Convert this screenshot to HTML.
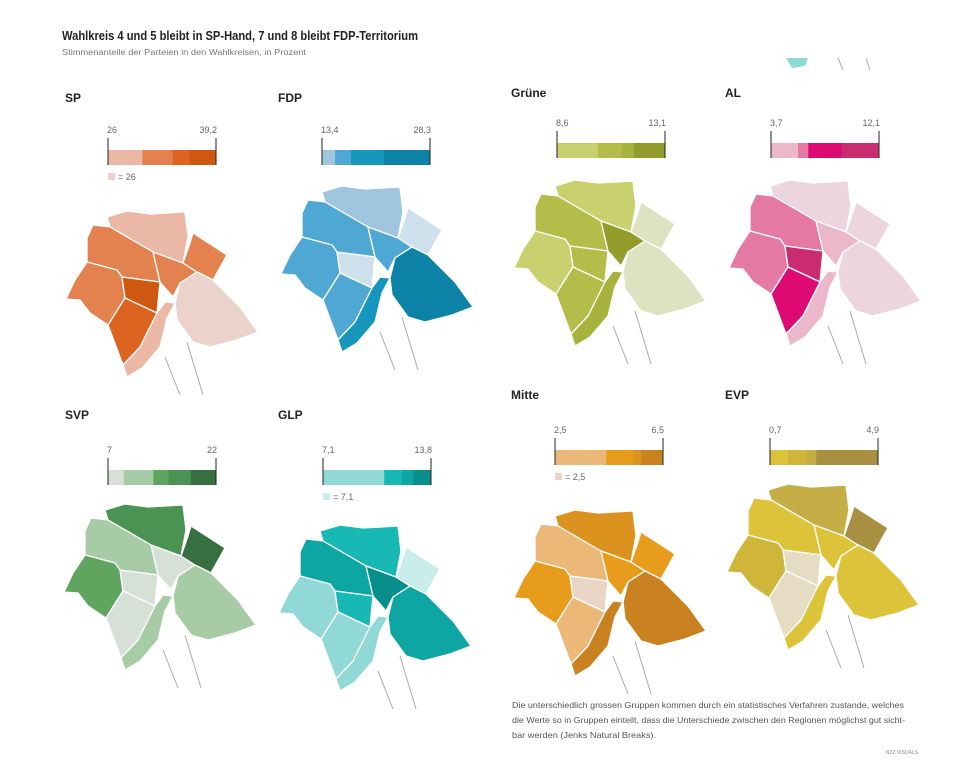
<!DOCTYPE html>
<html><head><meta charset="utf-8"><style>
body{margin:0;background:#fff;}
svg{display:block;font-family:"Liberation Sans Narrow","Liberation Sans",sans-serif;}
</style></head><body>
<svg id="c" width="960" height="770" viewBox="0 0 960 770">
<rect width="960" height="770" fill="#fff"/>
<text x="62" y="40" font-size="12.5" font-weight="bold" fill="#222" textLength="356" lengthAdjust="spacingAndGlyphs">Wahlkreis 4 und 5 bleibt in SP-Hand, 7 und 8 bleibt FDP-Territorium</text>
<text x="62" y="55" font-size="8.5" fill="#777" textLength="244" lengthAdjust="spacingAndGlyphs">Stimmenanteile der Parteien in den Wahlkreisen, in Prozent</text>
<path d="M786 58 L808 58 L805 66 L792 68 Z" fill="#8fd9d6"/>
<line x1="838" y1="58" x2="843" y2="70" stroke="#aaa" stroke-width="1"/>
<line x1="866" y1="58" x2="870" y2="70" stroke="#aaa" stroke-width="1"/>
<g id="maps"></g>
<g font-size="8.5" fill="#555">
<text x="512" y="708" textLength="392" lengthAdjust="spacingAndGlyphs">Die unterschiedlich grossen Gruppen kommen durch ein statistisches Verfahren zustande, welches</text>
<text x="512" y="723" textLength="393" lengthAdjust="spacingAndGlyphs">die Werte so in Gruppen einteilt, dass die Unterschiede zwischen den Regionen möglichst gut sicht-</text>
<text x="512" y="738" textLength="144" lengthAdjust="spacingAndGlyphs">bar werden (Jenks Natural Breaks).</text></g>
<text x="918" y="754" font-size="5" fill="#888" text-anchor="end">NZZ VISUALS</text>
</svg>
<script>
// Districts order: K11, K10, K6, K12, K9, K4/5, K3, K2, K7/8
const districts = ["k11","k10","k6","k12","k9","k4","k3","k2","k7"];
const parties = ["SP","FDP","Grüne","AL","SVP","GLP","Mitte","EVP"];
const breaksSP = [26,30.2,33.9,36,39.2];
const breaksFDP = [13.4,15.2,17.4,21.9,28.3];
const breaksGruene = [8.6,10.3,11.3,11.8,13.1];
const breaksAL = [3.7,5.8,6.6,9.2,12.1];
const breaksSVP = [7,9.2,13.3,15.4,18.5,22];
const breaksGLP = [7.1,10.9,12.0,12.7,13.8];
const breaksMitte = [2.5,4.4,5.4,5.7,6.5];
const breaksEVP = [0.7,1.4,2.1,2.5,4.9];
const valuesSP = [29,32,32,32,32,39.2,35,29,26];
const valuesFDP = [14,16,16,13.4,16,13.4,16,20,28.3];
const valuesGruene = [9.5,10.8,13.1,8.6,9.5,10.8,10.8,11.5,8.6];
const valuesAL = [3.7,6.2,5,3.7,6.2,12.1,8.5,5,3.7];
const valuesSVP = [17,11,8,22,14,8,8,11,11];
const valuesGLP = [11.5,12.3,13.8,7.1,9,11.5,9,9,12.3];
const valuesMitte = [5.5,3.5,5,5,5,2.5,3.5,6.5,6.5];
const valuesEVP = [2.3,1,1,4.9,1.7,0.7,0.7,1,1];

const palettes=[
 ['#eab8a5','#e3814f','#dc6420','#cf5810'],
 ['#9fc6de','#4ea8d3','#1696bd','#0b82a6'],
 ['#c9d16e','#b4bd4a','#a8b33d','#939c2a'],
 ['#ebb7ca','#e47aa4','#dc0a72','#c92c70'],
 ['#d6e0d6','#a7cca5','#5fa55f','#4a9352','#386f40'],
 ['#90d9d6','#18b8b5','#0ea6a3','#088f8b'],
 ['#ecb878','#e89c1c','#dc921f','#c9821f'],
 ['#ddc33a','#d0b53b','#c6ae47','#a98f41']];
const minColors=['#ebd3cc','#cde0ec','#dde3c0','#edd5dd',null,'#c9edeb','#ead6c6','#e6dcc4'];
const swatchShown=[true,false,false,false,false,true,true,false];
const allBreaks=[breaksSP,breaksFDP,breaksGruene,breaksAL,breaksSVP,breaksGLP,breaksMitte,breaksEVP];
const allValues=[valuesSP,valuesFDP,valuesGruene,valuesAL,valuesSVP,valuesGLP,valuesMitte,valuesEVP];
const fmt=v=>String(v).replace('.',',');

const mapOff=[[0,0],[215,-25],[448,-31],[663,-31],[-2,293],[213,314],[448,299],[661,273]];
const titlePos=[[65,102],[278,102],[511,97],[725,97],[65,419],[278,419],[511,399],[725,399]];
const barPos=[[108,150],[322,150],[557,143],[771,143],[108,470],[323,470],[555,450],[770,450]];
const BW=108,BH=15;
const shapes=[
 [[107,217],[127,211],[150,214],[185,212],[188,237],[183,263],[153,252],[110,227]],
 [[87,238],[93,225],[110,227],[153,252],[160,282],[122,277],[117,270],[87,262]],
 [[153,252],[183,263],[197,272],[180,283],[173,297],[160,282]],
 [[183,263],[190,243],[193,233],[227,255],[213,280],[197,272]],
 [[87,262],[117,270],[122,277],[125,298],[108,325],[90,313],[80,300],[66,299],[75,280]],
 [[122,277],[160,282],[157,313],[125,298]],
 [[125,298],[157,313],[140,347],[123,365],[108,325]],
 [[157,313],[165,302],[175,303],[167,318],[160,347],[142,368],[127,377],[123,365],[140,347]],
 [[175,303],[180,283],[197,272],[213,280],[240,307],[258,332],[237,340],[210,347],[193,342],[177,320]]];

const NS='http://www.w3.org/2000/svg';
const root=document.getElementById('maps');
function mk(tag,attrs,parent){const e=document.createElementNS(NS,tag);for(const k in attrs)e.setAttribute(k,attrs[k]);parent.appendChild(e);return e;}
function colorFor(p,v){
  const b=allBreaks[p];
  if(v===b[0]&&minColors[p])return minColors[p];
  for(let i=1;i<b.length;i++){if(v<=b[i])return palettes[p][i-1];}
  return palettes[p][palettes[p].length-1];
}
parties.forEach((name,p)=>{
  const g=mk('g',{},root);
  
  
  const t=mk('text',{x:titlePos[p][0],y:titlePos[p][1],'font-size':12,'font-weight':'bold',fill:'#222'},g);
  t.textContent=name;
  
  
  const b=allBreaks[p],[bx,by]=barPos[p];
  const lx=v=>bx+(v-b[0])/(b[b.length-1]-b[0])*BW;
  for(let i=0;i<b.length-1;i++){
    const r=mk('rect',{x:lx(b[i]),y:by,width:lx(b[i+1])-lx(b[i])+0.3,height:BH,fill:palettes[p][i]},g);
    
    
  }
  [b[0],b[b.length-1]].forEach((v,i)=>{
    const l=mk('line',{x1:lx(v),x2:lx(v),y1:by-12,y2:by+BH,stroke:'#222','stroke-width':1},g);
    
    
    const tx=mk('text',{x:lx(v)+(i?1:-1),y:by-17,'font-size':9,fill:'#666','text-anchor':i?'end':'start'},g);
    tx.textContent=fmt(v);
    
    
  });
  if(swatchShown[p]){
    const s=mk('rect',{x:bx,y:by+23,width:7,height:7,fill:minColors[p]},g);
    
    
    const st=mk('text',{x:bx+10,y:by+30,'font-size':9,fill:'#666'},g);
    st.textContent='= '+fmt(b[0]);
    
    
  }
  const [ox,oy]=mapOff[p];
  shapes.forEach((pts,d)=>{
    const poly=mk('polygon',{points:pts.map(q=>(q[0]+ox)+','+(q[1]+oy)).join(' '),fill:colorFor(p,allValues[p][d]),stroke:'#fff','stroke-width':1.3,'stroke-linejoin':'round'},g);
    
    
  });
  [[165,357,180,395],[187,342,203,395]].forEach(L=>{
    const l=mk('line',{x1:L[0]+ox,y1:L[1]+oy,x2:L[2]+ox,y2:L[3]+oy,stroke:'#aaa','stroke-width':1},g);
    
    
  });
});
</script>
</body></html>
